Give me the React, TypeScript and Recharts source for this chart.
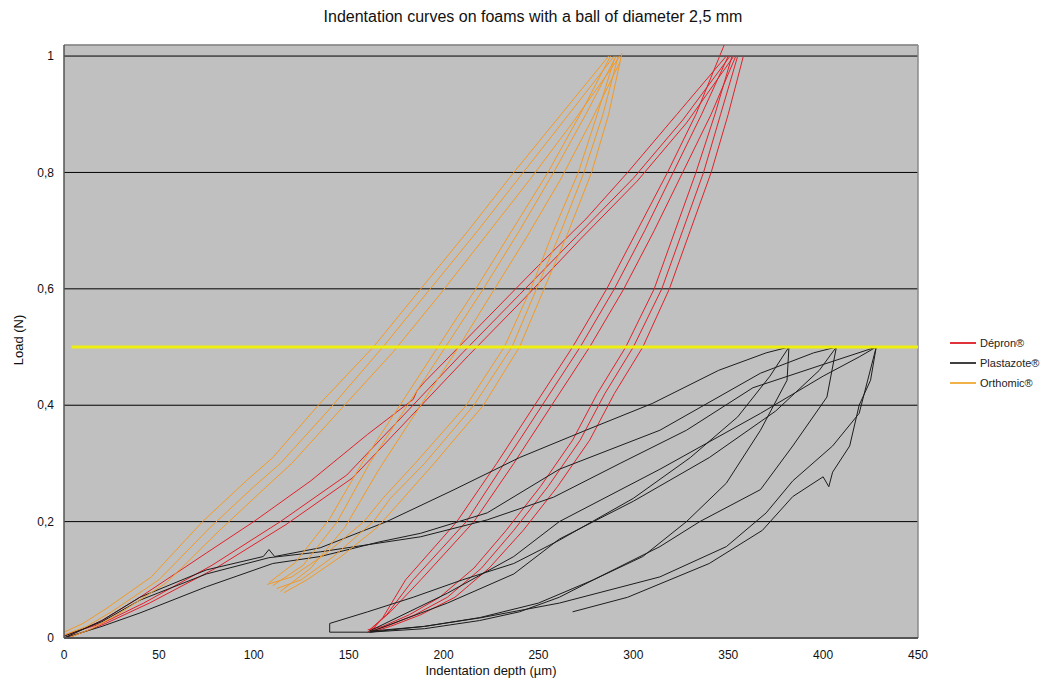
import React from 'react';
import { LineChart, Line, XAxis, YAxis, CartesianGrid, ReferenceLine } from 'recharts';

type Pt = [number, number];

// axes
const xTicks = [0, 50, 100, 150, 200, 250, 300, 350, 400, 450];
const yTicks = [0, 0.2, 0.4, 0.6, 0.8, 1];
const yMax = 1.019;

// yellow threshold line
const thresholdLine: Pt[] = [[4, 0.5], [450, 0.5]];

// Dépron® (red)
const depronLoadA: Pt[] = [[0, 0], [20, 0.03], [40, 0.07], [75, 0.146], [100, 0.2], [130, 0.27], [160, 0.35], [184, 0.41], [186, 0.425], [190, 0.44], [220, 0.54], [250, 0.64], [275, 0.72], [297, 0.8], [323, 0.9], [349, 1.0]];
const depronLoadB: Pt[] = [[0, 0.005], [20, 0.025], [42, 0.06], [78, 0.125], [114, 0.2], [149, 0.28], [181, 0.39], [210, 0.49], [240, 0.59], [270, 0.69], [300, 0.79], [326, 0.89], [351, 1.0]];
const depronLoadC: Pt[] = [[2, 0], [22, 0.025], [45, 0.06], [80, 0.12], [117, 0.195], [152, 0.275], [184, 0.385], [213, 0.485], [243, 0.585], [272, 0.685], [302, 0.785], [328, 0.885], [353, 1.0]];
const depronReloadA: Pt[] = [[161, 0.014], [170, 0.04], [184, 0.1], [212, 0.2], [232, 0.3], [252, 0.4], [272, 0.5], [290, 0.6], [306, 0.7], [321, 0.8], [336, 0.9], [350, 1.0]];
const depronReloadB: Pt[] = [[160, 0.01], [172, 0.045], [188, 0.1], [216, 0.2], [237, 0.3], [257, 0.4], [277, 0.5], [295, 0.6], [311, 0.7], [326, 0.8], [341, 0.9], [354, 1.0]];
const depronReloadC: Pt[] = [[162, 0.012], [168, 0.035], [180, 0.1], [207, 0.2], [228, 0.3], [248, 0.4], [268, 0.5], [286, 0.6], [302, 0.7], [318, 0.8], [333, 0.9], [348, 1.02]];
const depronUnloadA: Pt[] = [[355, 1.0], [346, 0.9], [337, 0.8], [326, 0.7], [315, 0.6], [300, 0.5], [285, 0.42], [272, 0.34], [255, 0.26], [237, 0.185], [220, 0.12], [202, 0.07], [185, 0.04], [170, 0.02], [161, 0.012]];
const depronUnloadB: Pt[] = [[358, 1.0], [350, 0.9], [341, 0.8], [330, 0.7], [319, 0.6], [305, 0.5], [290, 0.42], [277, 0.34], [260, 0.26], [242, 0.185], [224, 0.12], [206, 0.07], [188, 0.04], [172, 0.02], [162, 0.01]];
const depronUnloadC: Pt[] = [[352, 1.0], [343, 0.9], [333, 0.8], [322, 0.7], [311, 0.6], [296, 0.5], [281, 0.42], [268, 0.34], [251, 0.26], [233, 0.185], [216, 0.12], [198, 0.07], [182, 0.04], [168, 0.02], [160, 0.014]];

// Plastazote® (black)
const plastLoadA: Pt[] = [[0, 0], [20, 0.03], [40, 0.07], [75, 0.117], [105, 0.14], [108, 0.152], [111, 0.14], [135, 0.155], [170, 0.2], [205, 0.254], [240, 0.31], [275, 0.357], [310, 0.403], [345, 0.46], [370, 0.49], [382, 0.5]];
const plastLoadB: Pt[] = [[0, 0], [20, 0.02], [40, 0.043], [75, 0.088], [110, 0.128], [135, 0.14], [166, 0.165], [188, 0.18], [223, 0.215], [261, 0.29], [314, 0.357], [367, 0.455], [395, 0.49], [407, 0.5]];
const plastLoadC: Pt[] = [[0, 0.003], [20, 0.028], [40, 0.065], [75, 0.11], [108, 0.138], [135, 0.148], [188, 0.174], [223, 0.203], [258, 0.242], [293, 0.3], [328, 0.357], [363, 0.43], [400, 0.47], [428, 0.5]];
const plastReloadA: Pt[] = [[140, 0.01], [140, 0.025], [160, 0.045], [184, 0.07], [210, 0.1], [237, 0.128], [261, 0.168], [300, 0.24], [330, 0.31], [355, 0.38], [372, 0.45], [382, 0.5]];
const plastReloadB: Pt[] = [[161, 0.012], [202, 0.077], [237, 0.14], [261, 0.2], [314, 0.29], [367, 0.386], [400, 0.45], [419, 0.483], [428, 0.5]];
const plastReloadC: Pt[] = [[161, 0.01], [202, 0.06], [237, 0.11], [261, 0.17], [300, 0.235], [340, 0.31], [375, 0.39], [398, 0.46], [407, 0.5]];
const plastUnloadA: Pt[] = [[382, 0.5], [381, 0.443], [367, 0.357], [349, 0.266], [328, 0.2], [305, 0.14], [279, 0.1], [261, 0.07], [240, 0.045], [219, 0.03], [190, 0.016], [161, 0.01], [140, 0.01]];
const plastUnloadB: Pt[] = [[407, 0.5], [402, 0.414], [384, 0.33], [367, 0.255], [335, 0.2], [314, 0.157], [279, 0.1], [250, 0.06], [219, 0.035], [190, 0.02], [161, 0.01]];
const plastUnloadC: Pt[] = [[428, 0.5], [425, 0.443], [419, 0.4], [414, 0.33], [405, 0.285], [403, 0.26], [400, 0.277], [384, 0.243], [368, 0.185], [340, 0.128], [297, 0.07], [268, 0.045]];
const plastUnloadD: Pt[] = [[428, 0.5], [419, 0.386], [405, 0.33], [384, 0.27], [370, 0.215], [349, 0.157], [314, 0.105], [261, 0.06], [220, 0.035], [190, 0.02], [162, 0.012]];

// Orthomic® (orange)
const orthoLoadA: Pt[] = [[0, 0.005], [12, 0.02], [25, 0.045], [50, 0.1], [77, 0.19], [100, 0.26], [114, 0.3], [139, 0.39], [168, 0.5], [193, 0.6], [218, 0.7], [242, 0.8], [266, 0.9], [290, 1.0]];
const orthoLoadB: Pt[] = [[2, 0], [14, 0.015], [28, 0.04], [54, 0.095], [82, 0.185], [105, 0.255], [120, 0.3], [145, 0.39], [173, 0.49], [198, 0.59], [222, 0.69], [246, 0.79], [269, 0.89], [293, 1.0]];
const orthoLoadC: Pt[] = [[0, 0.01], [10, 0.025], [22, 0.05], [46, 0.105], [73, 0.2], [96, 0.27], [110, 0.31], [134, 0.4], [163, 0.5], [188, 0.6], [213, 0.7], [237, 0.8], [262, 0.9], [287, 1.0]];
const orthoUnloadA: Pt[] = [[292, 1.0], [284, 0.9], [274, 0.8], [262, 0.7], [249, 0.6], [236, 0.5], [216, 0.4], [190, 0.3], [172, 0.24], [163, 0.2], [142, 0.14], [125, 0.1], [112, 0.085]];
const orthoUnloadB: Pt[] = [[294, 1.005], [287, 0.9], [278, 0.8], [266, 0.7], [253, 0.6], [240, 0.5], [221, 0.4], [195, 0.3], [176, 0.23], [165, 0.19], [146, 0.14], [128, 0.1], [116, 0.078]];
const orthoUnloadC: Pt[] = [[290, 0.995], [281, 0.9], [271, 0.8], [258, 0.7], [246, 0.6], [232, 0.5], [212, 0.4], [185, 0.3], [168, 0.24], [158, 0.2], [138, 0.145], [120, 0.105], [107, 0.092]];
const orthoReloadA: Pt[] = [[110, 0.09], [126, 0.125], [144, 0.2], [161, 0.3], [181, 0.4], [201, 0.5], [221, 0.6], [240, 0.7], [258, 0.8], [275, 0.9], [291, 1.0]];
const orthoReloadB: Pt[] = [[114, 0.08], [130, 0.12], [148, 0.19], [166, 0.29], [186, 0.39], [206, 0.49], [225, 0.59], [244, 0.69], [262, 0.79], [278, 0.89], [293, 0.99]];
const orthoReloadC: Pt[] = [[108, 0.095], [122, 0.13], [140, 0.205], [157, 0.3], [177, 0.4], [197, 0.5], [217, 0.6], [236, 0.7], [255, 0.8], [272, 0.9], [288, 1.0]];

const materials = [
  { name: 'Dépron®', color: '#e3202a', legendColor: '#e0323a', curves: [depronLoadA, depronLoadB, depronLoadC, depronReloadA, depronReloadB, depronReloadC, depronUnloadA, depronUnloadB, depronUnloadC] },
  { name: 'Plastazote®', color: '#1c1c1c', legendColor: '#404040', curves: [plastLoadA, plastLoadB, plastLoadC, plastReloadA, plastReloadB, plastReloadC, plastUnloadA, plastUnloadB, plastUnloadC, plastUnloadD] },
  { name: 'Orthomic®', color: '#f29a26', legendColor: '#f2b24a', curves: [orthoLoadA, orthoLoadB, orthoLoadC, orthoUnloadA, orthoUnloadB, orthoUnloadC, orthoReloadA, orthoReloadB, orthoReloadC] },
];

const toRows = (pts: Pt[]) => pts.map(([x, y]) => ({ x, y }));

const font = '"Liberation Sans", Arial, sans-serif';

const App: React.FC = () => {
  return (
    <div style={{ position: 'absolute', left: 0, top: 0, width: 1043, height: 679, background: '#fff', fontFamily: font }}>
      <div style={{ position: 'absolute', top: 8, left: 0, width: 1066, textAlign: 'center', fontSize: 16, color: '#111' }}>
        Indentation curves on foams with a ball of diameter 2,5 mm
      </div>
      <div style={{ position: 'absolute', top: 663, left: 0, width: 982, textAlign: 'center', fontSize: 13, color: '#111' }}>
        Indentation depth (µm)
      </div>
      <div style={{ position: 'absolute', left: 18, top: 340, transform: 'translate(-50%, -50%) rotate(-90deg)', fontSize: 13, color: '#111', whiteSpace: 'nowrap' }}>
        Load (N)
      </div>
      <div style={{ position: 'absolute', left: 950, top: 333, fontSize: 11, color: '#222' }}>
        {materials.map((m) => (
          <div key={m.name} style={{ display: 'flex', alignItems: 'center', height: 20 }}>
            <div style={{ width: 26, height: 1.5, background: m.legendColor, marginRight: 4 }} />
            <span>{m.name}</span>
          </div>
        ))}
      </div>
      <div style={{ position: 'absolute', left: 0, top: 0 }}>
        <LineChart width={1043} height={679} margin={{ top: 45, right: 125, bottom: 0, left: 4 }}>
          <CartesianGrid vertical={false} stroke="#000" strokeWidth={1} fill="#c0c0c0" fillOpacity={1} />
          <XAxis
            dataKey="x"
            type="number"
            domain={[0, 450]}
            ticks={xTicks}
            height={41}
            tickLine={false}
            tickMargin={6}
            axisLine={{ stroke: '#555', strokeWidth: 2 }}
            tick={{ fontSize: 12, fill: '#111', fontFamily: font }}
            allowDataOverflow
          />
          <YAxis
            type="number"
            domain={[0, yMax]}
            ticks={yTicks}
            width={60}
            tickLine={false}
            tickMargin={4}
            axisLine={{ stroke: '#555', strokeWidth: 1.5 }}
            tick={{ fontSize: 12, fill: '#111', fontFamily: font }}
            tickFormatter={(v: number) => String(v).replace('.', ',')}
            allowDataOverflow
          />
          <ReferenceLine y={yMax} stroke="#a0a0a0" strokeWidth={1.5} />
          <ReferenceLine x={450} stroke="#8a8a8a" strokeWidth={1.5} />
          {materials.map((m) =>
            m.curves.map((c, i) => (
              <Line
                key={`${m.name}-${i}`}
                data={toRows(c)}
                dataKey="y"
                stroke={m.color}
                strokeWidth={1}
                dot={false}
                activeDot={false}
                legendType="none"
                isAnimationActive={false}
              />
            ))
          )}
          <Line
            data={toRows(thresholdLine)}
            dataKey="y"
            stroke="#eeee10"
            strokeWidth={3}
            dot={false}
            activeDot={false}
            legendType="none"
            isAnimationActive={false}
          />
        </LineChart>
      </div>
    </div>
  );
};

export default App;
